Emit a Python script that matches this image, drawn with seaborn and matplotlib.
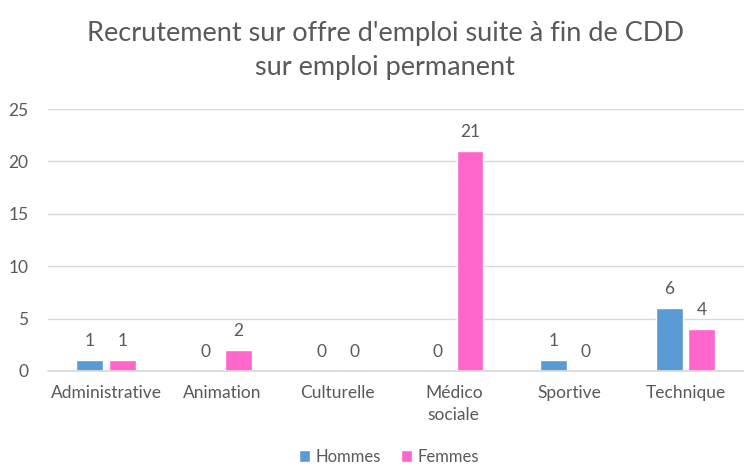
import matplotlib
matplotlib.use("Agg")
import matplotlib.pyplot as plt
import seaborn as sns
import pandas as pd

categories = ["Administrative", "Animation", "Culturelle", "Médico\nsociale", "Sportive", "Technique"]
hommes = [1, 0, 0, 0, 1, 6]
femmes = [1, 2, 0, 21, 0, 4]
series = ["Hommes", "Femmes"]
title = "Recrutement sur offre d'emploi suite à fin de CDD\nsur emploi permanent"

df = pd.DataFrame({
    "cat": categories * 2,
    "val": hommes + femmes,
    "serie": [series[0]] * len(categories) + [series[1]] * len(categories),
})

sns.set_theme(style="white")
plt.rcParams['font.family'] = ['Lato', 'DejaVu Sans']
grey = "#595959"

fig = plt.figure(figsize=(7.44, 4.66), dpi=100)
ax = fig.add_axes([0.0645, 0.204, 0.935, 0.562])
sns.barplot(data=df, x="cat", y="val", hue="serie", order=categories,
            hue_order=series, palette=["#5B9BD5", "#FF66CC"], saturation=1,
            width=0.56, gap=0.17, ax=ax, legend=True)

ax.set_ylim(0, 25)
ax.set_xlim(-0.5, 5.5)
ax.set_yticks([0, 5, 10, 15, 20, 25])
ax.yaxis.grid(True, color="#D9D9D9", linewidth=1)
ax.set_axisbelow(True)
for s in ["top", "right", "left"]:
    ax.spines[s].set_visible(False)
ax.spines["bottom"].set_color("#D9D9D9")
ax.tick_params(axis="y", colors=grey, labelsize=12.5, length=0, pad=14)
ax.tick_params(axis="x", colors=grey, labelsize=12.5, length=0, pad=10)
for lbl in ax.get_xticklabels():
    lbl.set_linespacing(1.5)
ax.set_xlabel("")
ax.set_ylabel("")

for cont in ax.containers:
    ax.bar_label(cont, fmt="%d", padding=8, color=grey, fontsize=12.5)

fig.suptitle(title, x=0.518, y=0.955, fontsize=19.5, color=grey, linespacing=1.45)

leg = ax.legend(loc="lower center", bbox_to_anchor=(0.49, -0.385), ncol=2,
                frameon=False, fontsize=12, handlelength=0.7, handleheight=0.7,
                columnspacing=1.2, handletextpad=0.3, borderaxespad=0)
for t in leg.get_texts():
    t.set_color(grey)

fig.savefig("out.png", dpi=100)
